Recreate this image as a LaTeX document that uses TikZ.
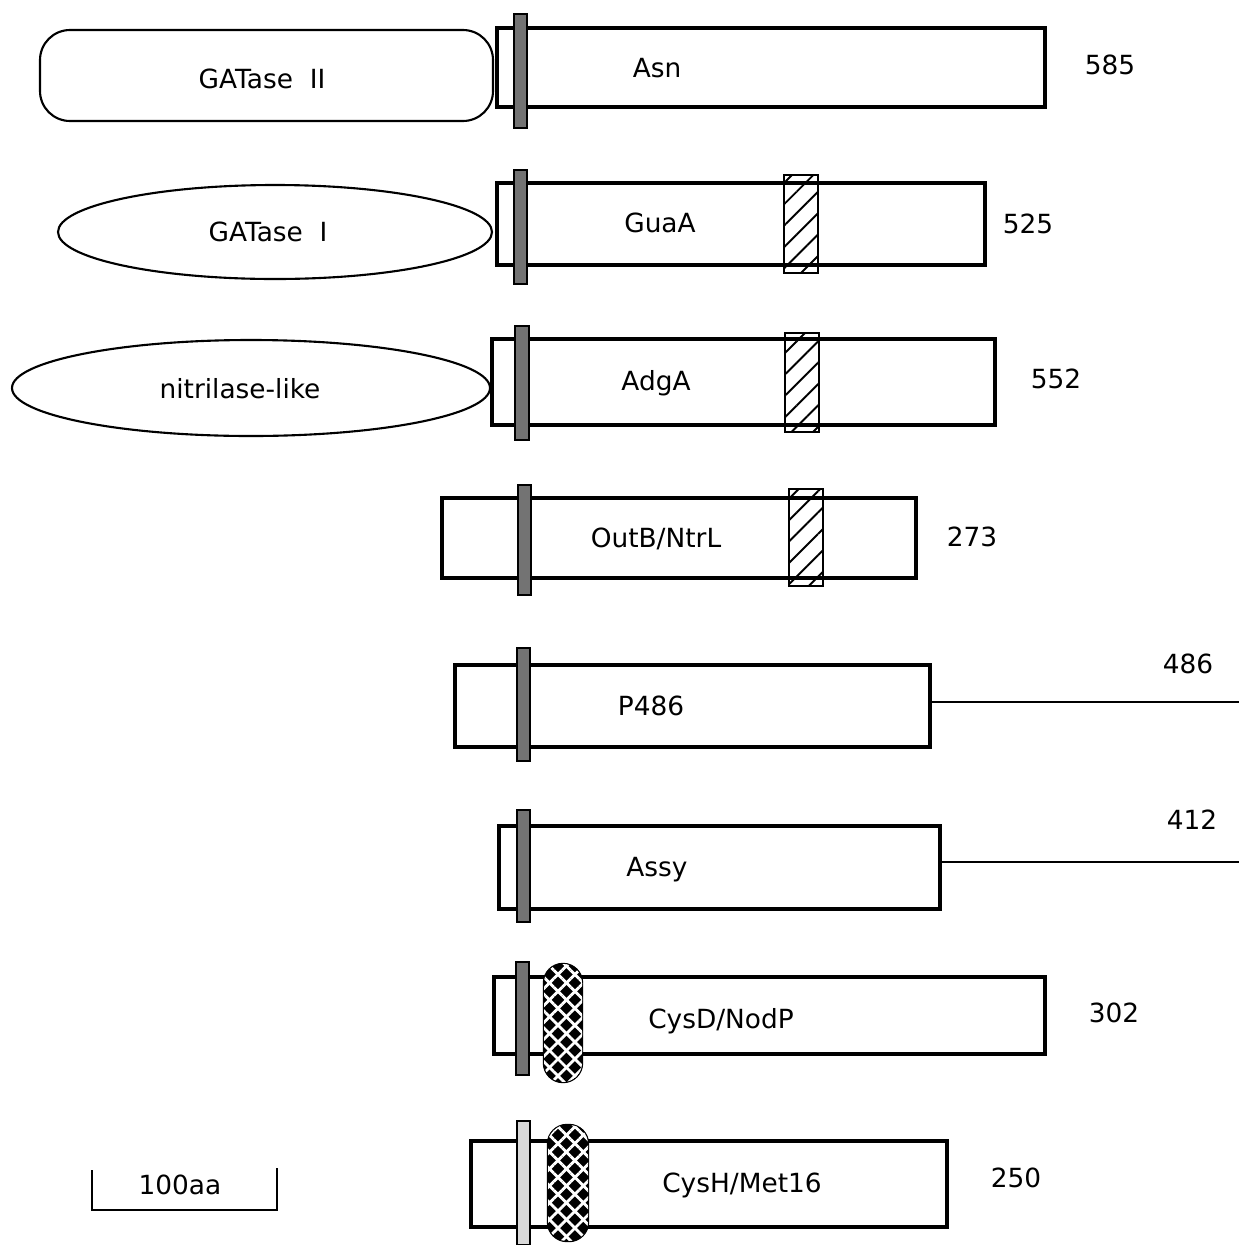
\documentclass[tikz,border=0pt]{standalone}
\usepackage{fontspec}
\setmainfont{DejaVu Sans}
\usetikzlibrary{patterns.meta}

\tikzset{
  domainbox/.style={draw=black, line width=0.9pt, fill=white},
  gatase/.style={draw=black, line width=0.6pt, fill=white},
  linkerbar/.style={draw=black, line width=0.7pt, fill=black!55},
  hatchbar/.style={draw=black, line width=0.7pt, pattern={Lines[angle=45,distance=4.3pt,line width=0.55pt]}},
  meshoval/.style={draw=black, line width=0.7pt, fill=black, rounded corners=1.9mm,
    postaction={pattern={Lines[angle=45,distance=3.4pt,line width=0.8pt]}, pattern color=white},
    postaction={pattern={Lines[angle=-45,distance=3.4pt,line width=0.8pt]}, pattern color=white}},
  lbl/.style={font=\fontsize{7.5}{9}\selectfont, inner sep=0pt}
}

\begin{document}
\begin{tikzpicture}[x=0.01cm, y=-0.01cm]
        \useasboundingbox (0,0) rectangle (1239,1245);

        % Asn
        \draw[gatase, rounded corners=3mm] (40,30) rectangle (493,121);
        \node[lbl] (gat2) at (262,79) {GATase~~II};
        \draw[domainbox] (497,28) rectangle (1045,107);
        \draw[linkerbar] (514,14) rectangle (527,128);
        \node[lbl] (asn) at (657,68) {Asn};
        \node[lbl] (len585) at (1110,65) {585};

        % GuaA
        \draw[gatase] (275,232) ellipse [x radius=217, y radius=47];
        \node[lbl] (gat1) at (268,232) {GATase~~I};
        \draw[domainbox] (497,183) rectangle (985,265);
        \draw[linkerbar] (514,170) rectangle (527,284);
        \draw[hatchbar] (784,175) rectangle (818,273);
        \node[lbl] (guaa) at (660,223) {GuaA};
        \node[lbl] (len525) at (1028,224) {525};

        % AdgA
        \draw[gatase] (251,388) ellipse [x radius=239, y radius=48];
        \node[lbl] (nitril) at (240,389) {nitrilase-like};
        \draw[domainbox] (492,339) rectangle (995,425);
        \draw[linkerbar] (515,326) rectangle (529,440);
        \draw[hatchbar] (785,333) rectangle (819,432);
        \node[lbl] (adga) at (656,383) {AdgA};
        \node[lbl] (len552) at (1056,379) {552};

        % OutB/NtrL
        \draw[domainbox] (442,498) rectangle (916,578);
        \draw[linkerbar] (518,485) rectangle (531,595);
        \draw[hatchbar] (789,489) rectangle (823,586);
        \node[lbl] (outb) at (656,539) {OutB/NtrL};
        \node[lbl] (len273) at (972,537) {273};

        % P486
        \draw[domainbox] (455,665) rectangle (930,747);
        \draw[linkerbar] (517,648) rectangle (530,761);
        \coordinate (tailA) at (1239,702);
        \draw[line width=0.8pt] (930,702) -- (tailA);
        \node[lbl] (p486) at (651,706) {P486};
        \node[lbl] (len486) at (1188,664) {486};

        % Assy
        \draw[domainbox] (499,826) rectangle (940,909);
        \draw[linkerbar] (517,810) rectangle (530,922);
        \coordinate (tailB) at (1239,862);
        \draw[line width=0.8pt] (940,862) -- (tailB);
        \node[lbl] (assy) at (657,870) {Assy};
        \node[lbl] (len412) at (1192,820) {412};

        % CysD/NodP
        \draw[domainbox] (494,977) rectangle (1045,1054);
        \draw[linkerbar] (516,962) rectangle (529,1075);
        \draw[meshoval] (544,964) rectangle (582,1082);
        \node[lbl] (cysd) at (721,1021) {CysD/NodP};
        \node[lbl] (len302) at (1114,1013) {302};

        % CysH/Met16
        \draw[domainbox] (471,1141) rectangle (947,1227);
        \draw[linkerbar, fill=black!15] (517,1121) rectangle (530,1245);
        \draw[meshoval] (548,1125) rectangle (588,1241);
        \node[lbl] (cysh) at (742,1185) {CysH/Met16};
        \node[lbl] (len250) at (1016,1178) {250};

        % Scale bar
        \draw[line width=0.8pt] (92,1170) -- (92,1210) -- (277,1210) -- (277,1168);
        \node[lbl] (scale) at (180,1185) {100aa};
    \end{tikzpicture}
\end{document}
